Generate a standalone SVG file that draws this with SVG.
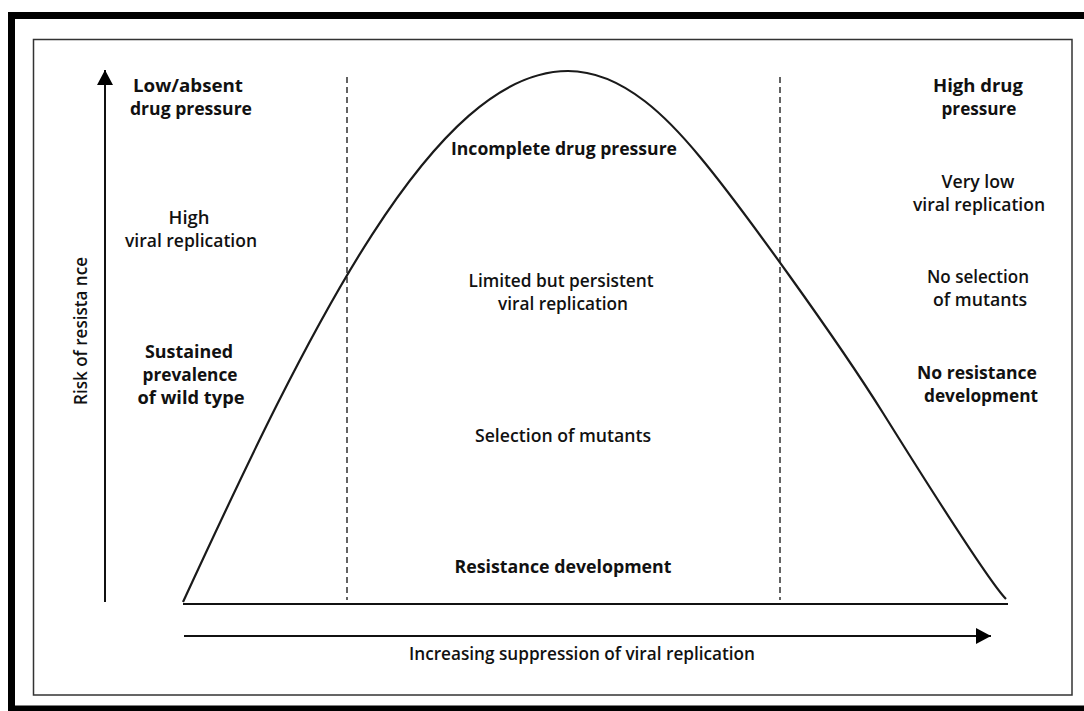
<svg xmlns="http://www.w3.org/2000/svg" width="1084" height="711" viewBox="0 0 1084 711">
  <style>
    .lbl { font-family: "Open Sans", "Liberation Sans", sans-serif; font-size: 18px; fill: #111; text-anchor: middle; }
    .b { font-weight: 700; }
    .m { font-weight: 600; }
    .axis { stroke: #111; stroke-width: 2; fill: none; }
    .dash { stroke: #222; stroke-width: 1.4; stroke-dasharray: 6 4; fill: none; }
    .curve { stroke: #1a1a1a; stroke-width: 2.2; fill: none; }
  </style>
  <defs>
    <marker id="arrow" viewBox="0 0 15 16" refX="15" refY="8" markerWidth="15" markerHeight="16" markerUnits="userSpaceOnUse" orient="auto">
      <path d="M0,0 L15,8 L0,16 Z" fill="#000"/>
    </marker>
  </defs>

  <rect width="1084" height="711" fill="#fff"/>

  <!-- outer heavy frame (open on the right) -->
  <path d="M1084,15.5 H11.5 V709 H1084" fill="none" stroke="#000" stroke-width="7"/>
  <!-- inner thin frame -->
  <rect x="33.5" y="39.5" width="1038.5" height="655.5" fill="none" stroke="#333" stroke-width="1.5"/>

  <g id="connectors">
    <!-- vertical axis: risk of resistance -->
    <line class="axis" x1="105" y1="602" x2="105" y2="70" marker-end="url(#arrow)"/>
    <!-- baseline under the curve -->
    <line class="axis" x1="183" y1="604" x2="1008" y2="604"/>
    <!-- horizontal axis: increasing suppression -->
    <line class="axis" x1="184" y1="636" x2="991" y2="636" marker-end="url(#arrow)"/>
    <!-- zone separators -->
    <line class="dash" x1="347" y1="77" x2="347" y2="600"/>
    <line class="dash" x1="780" y1="77" x2="780" y2="600"/>
    <!-- risk curve: quarter-sine rise, then a long descent with a soft tail -->
    <path class="curve" d="M183,602 C308.2,330.8 433.4,71 568,71 C625,71 672,123 700,157 C740,205 838,341 883,413 C933,493 992,585 1006,599"/>
  </g>

  <g id="y-axis-label">
    <text class="lbl m" font-size="17" transform="translate(87,331) rotate(-90)" textLength="148" lengthAdjust="spacingAndGlyphs">Risk of resista nce</text>
  </g>
  <g id="x-axis-label">
    <text class="lbl m" x="582" y="660" textLength="346" lengthAdjust="spacingAndGlyphs">Increasing suppression of viral replication</text>
  </g>

  <g id="low-pressure">
    <text class="lbl b" x="188" y="92" textLength="110" lengthAdjust="spacingAndGlyphs">Low/absent</text>
    <text class="lbl b" x="191" y="115" textLength="122" lengthAdjust="spacingAndGlyphs">drug pressure</text>
  </g>
  <g id="high-replication">
    <text class="lbl m" x="189" y="224" textLength="41" lengthAdjust="spacingAndGlyphs">High</text>
    <text class="lbl m" x="191" y="247" textLength="132" lengthAdjust="spacingAndGlyphs">viral replication</text>
  </g>
  <g id="wild-type">
    <text class="lbl b" x="189" y="358" textLength="88" lengthAdjust="spacingAndGlyphs">Sustained</text>
    <text class="lbl b" x="190" y="381" textLength="95" lengthAdjust="spacingAndGlyphs">prevalence</text>
    <text class="lbl b" x="191" y="404" textLength="107" lengthAdjust="spacingAndGlyphs">of wild type</text>
  </g>

  <g id="incomplete-pressure">
    <text class="lbl b" x="564" y="155" textLength="226" lengthAdjust="spacingAndGlyphs">Incomplete drug pressure</text>
  </g>
  <g id="limited-replication">
    <text class="lbl m" x="561" y="287" textLength="185" lengthAdjust="spacingAndGlyphs">Limited but persistent</text>
    <text class="lbl m" x="563" y="310" textLength="130" lengthAdjust="spacingAndGlyphs">viral replication</text>
  </g>
  <g id="selection">
    <text class="lbl m" x="563" y="442" textLength="176" lengthAdjust="spacingAndGlyphs">Selection of mutants</text>
  </g>
  <g id="resistance">
    <text class="lbl b" x="563" y="573" textLength="217" lengthAdjust="spacingAndGlyphs">Resistance development</text>
  </g>

  <g id="high-pressure">
    <text class="lbl b" x="978" y="92" textLength="90" lengthAdjust="spacingAndGlyphs">High drug</text>
    <text class="lbl b" x="979" y="115" textLength="75" lengthAdjust="spacingAndGlyphs">pressure</text>
  </g>
  <g id="low-replication">
    <text class="lbl m" x="978" y="188" textLength="73" lengthAdjust="spacingAndGlyphs">Very low</text>
    <text class="lbl m" x="979" y="211" textLength="132" lengthAdjust="spacingAndGlyphs">viral replication</text>
  </g>
  <g id="no-selection">
    <text class="lbl m" x="978" y="283" textLength="102" lengthAdjust="spacingAndGlyphs">No selection</text>
    <text class="lbl m" x="980" y="306" textLength="94" lengthAdjust="spacingAndGlyphs">of mutants</text>
  </g>
  <g id="no-resistance">
    <text class="lbl b" x="977" y="379" textLength="120" lengthAdjust="spacingAndGlyphs">No resistance</text>
    <text class="lbl b" x="981" y="402" textLength="114" lengthAdjust="spacingAndGlyphs">development</text>
  </g>
</svg>
